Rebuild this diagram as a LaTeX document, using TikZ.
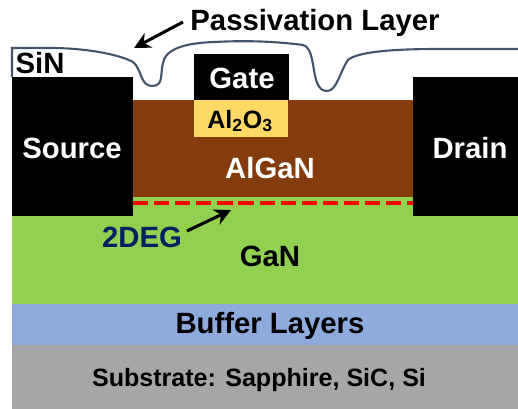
\documentclass[tikz,border=0pt]{standalone}
\usepackage{fontspec}
\setmainfont{Liberation Sans}
\usetikzlibrary{arrows.meta}
\definecolor{algan}{HTML}{843C0C}
\definecolor{gan}{HTML}{92D050}
\definecolor{buffer}{HTML}{8FAADC}
\definecolor{substrate}{HTML}{A6A6A6}
\definecolor{oxide}{HTML}{FFD966}
\definecolor{sinline}{HTML}{44546A}
\definecolor{twodeg}{HTML}{002060}
\tikzset{
  layertext/.style={font=\bfseries\fontsize{25pt}{28pt}\selectfont,inner sep=0pt},
  metaltext/.style={layertext,text=white},
  subtext/.style={layertext,font=\bfseries\fontsize{21.4pt}{25pt}\selectfont},
  callout/.style={-{Stealth[length=14pt,width=14pt]},line width=2.6pt},
}
\begin{document}
\begin{tikzpicture}[scale=0.03]
  \useasboundingbox (0,0) rectangle (518,409);
  % layers
  \fill[substrate] (12,0) rectangle (518,64);
  \fill[buffer] (12,64) rectangle (518,105);
  \fill[gan] (12,105) rectangle (518,212);
  \fill[algan] (133,212) rectangle (413,309);
  \fill[oxide] (194,272) rectangle (288,309);
  % contacts
  \fill[black] (12,193) rectangle (133,332);
  \fill[black] (413,193) rectangle (518,332);
  \fill[black] (194,309) rectangle (289,355);
  % passivation
  \draw[sinline,line width=1.8pt] (12,332)--(12,361)--(50,361)
    .. controls (85,361) and (118,355) .. (133,347)
    .. controls (142,340) and (140,323) .. (152,323)
    .. controls (164,323) and (160,335) .. (163,346)
    .. controls (165,358) and (180,366) .. (215,367)
    .. controls (250,369) and (280,367) .. (303,364)
    .. controls (318,360) and (309,318) .. (327,318)
    .. controls (337,318) and (340,338) .. (348,349)
    .. controls (358,358) and (400,360) .. (437,360) -- (518,360);
  % 2DEG channel
  \draw[red,line width=3.2pt,dash pattern=on 13pt off 5pt] (133,206)--(413,206);
  \node[layertext] (sin) at (40,346) {SiN};
  \node[layertext] (passlabel) at (315,386) {Passivation Layer};
  \coordinate (passtip) at (134,361);
  \draw[callout] (183,387)--(passtip);
  \node[metaltext] (source) at (72,261) {Source};
  \node[metaltext] (drain) at (470,261) {Drain};
  \node[metaltext] (gate) at (242,331) {Gate};
  \node[subtext] (oxidelabel) at (240,288) {Al$_{\mathbf 2}$O$_{\mathbf 3}$};
  \node[metaltext] (alganlabel) at (270,241) {AlGaN};
  \node[layertext,text=twodeg] (twodeglabel) at (142,172) {2DEG};
  \coordinate (twodegtip) at (231,199);
  \draw[callout] (187,178)--(twodegtip);
  \node[layertext] (ganlabel) at (270,153) {GaN};
  \node[layertext] (bufferlabel) at (270,83) {Buffer Layers};
  \node[subtext] (subslabel) at (259,29) {Substrate: Sapphire, SiC, Si};
\end{tikzpicture}
\end{document}
